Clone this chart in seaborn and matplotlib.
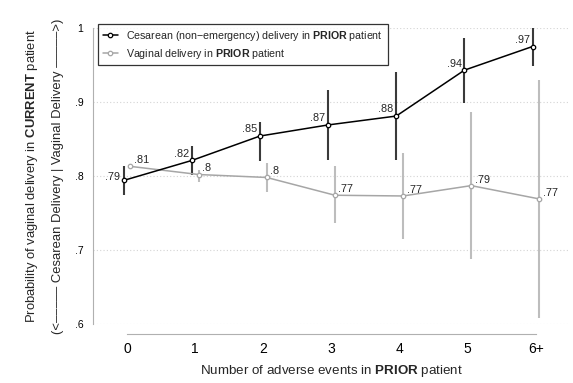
import numpy as np
import pandas as pd
import matplotlib
matplotlib.use("Agg")
import matplotlib.pyplot as plt
import seaborn as sns

sns.set_style("white")
plt.rcParams["font.family"] = ["Liberation Sans", "DejaVu Sans"]
plt.rcParams["mathtext.fontset"] = "custom"
plt.rcParams["mathtext.rm"] = "Liberation Sans"
plt.rcParams["mathtext.bf"] = "Liberation Sans:bold"

# data
categories = ["0", "1", "2", "3", "4", "5", "6+"]

cesarean_mean = [0.794, 0.821, 0.854, 0.869, 0.881, 0.943, 0.975]
cesarean_low = [0.774, 0.802, 0.820, 0.821, 0.822, 0.899, 0.949]
cesarean_high = [0.814, 0.841, 0.873, 0.916, 0.940, 0.987, 1.000]
cesarean_labels = [".79", ".82", ".85", ".87", ".88", ".94", ".97"]

vaginal_mean = [0.813, 0.802, 0.798, 0.774, 0.773, 0.787, 0.769]
vaginal_low = [0.809, 0.792, 0.778, 0.737, 0.715, 0.688, 0.608]
vaginal_high = [0.816, 0.808, 0.818, 0.813, 0.831, 0.886, 0.930]
vaginal_labels = [".81", ".8", ".8", ".77", ".77", ".79", ".77"]

ytick_vals = [0.6, 0.7, 0.8, 0.9, 1.0]
ytick_labels = [".6", ".7", ".8", ".9", "1"]

black = "#000000"
gray = "#a6a6a6"

fig = plt.figure(figsize=(5.73, 3.83), dpi=100)
ax = fig.add_axes([93 / 573, 1 - 324 / 383, 477 / 573, 296 / 383])

idx = np.arange(len(categories))
df = pd.DataFrame({
    "pos": np.concatenate([idx + 0.05, idx - 0.05]),
    "mean": vaginal_mean + cesarean_mean,
    "series": ["vag"] * len(idx) + ["ces"] * len(idx),
})

# confidence intervals
ax.vlines(idx + 0.05, vaginal_low, vaginal_high, color="#bdbdbd", lw=1.5, zorder=2)
ax.vlines(idx - 0.05, cesarean_low, cesarean_high, color="#3a3a3a", lw=1.5, zorder=3)

vag = df[df["series"] == "vag"]
ces = df[df["series"] == "ces"]
sns.lineplot(data=vag, x="pos", y="mean", color=gray, lw=1.1, marker="o",
             markersize=3.2, markerfacecolor="white", markeredgecolor=gray,
             markeredgewidth=0.9, ax=ax, zorder=4,
             label=r"Vaginal delivery in $\bf{PRIOR}$ patient")
sns.lineplot(data=ces, x="pos", y="mean", color=black, lw=1.1, marker="o",
             markersize=3.2, markerfacecolor="white", markeredgecolor=black,
             markeredgewidth=0.9, ax=ax, zorder=5,
             label=r"Cesarean (non$-$emergency) delivery in $\bf{PRIOR}$ patient")

# point labels
for i, (x, y) in enumerate(zip(ces["pos"], ces["mean"])):
    if i == 0:
        ax.annotate(cesarean_labels[i], (x, y), xytext=(-2.5, 2.5), textcoords="offset points",
                    ha="right", va="center", fontsize=7.8)
    else:
        ax.annotate(cesarean_labels[i], (x, y), xytext=(-2, 1.2), textcoords="offset points",
                    ha="right", va="bottom", fontsize=7.8)
for i, (x, y) in enumerate(zip(vag["pos"], vag["mean"])):
    ax.annotate(vaginal_labels[i], (x, y), xytext=(2.5, 0.8), textcoords="offset points",
                ha="left", va="bottom", fontsize=7.8)

ax.set_xlim(-0.5, 6.5)
ax.set_ylim(0.6, 1.0)
ax.set_xticks(idx)
ax.set_xticklabels(categories, fontsize=7.5)
ax.set_yticks(ytick_vals)
ax.set_yticklabels(ytick_labels, fontsize=7.5)
ax.grid(axis="y", linestyle=(0, (1, 2)), color="#d4d4d4", lw=0.8)
ax.grid(axis="x", visible=False)

for s in ["top", "right"]:
    ax.spines[s].set_visible(False)
ax.spines["left"].set_color("#b0b0b0")
ax.spines["bottom"].set_color("#b0b0b0")
ax.spines["bottom"].set_position(("outward", 7))
ax.spines["bottom"].set_bounds(0, 6)
ax.tick_params(axis="both", direction="out", length=4, width=0.9, color="#b0b0b0",
               pad=3, labelcolor="black")
ax.tick_params(axis="x", pad=2)

ax.set_xlabel(r"Number of adverse events in $\bf{PRIOR}$ patient", fontsize=9.6, labelpad=5)
ax.set_ylabel("")

fig.text(32 / 573, 1 - 176 / 383,
         r"Probability of vaginal delivery in $\bf{CURRENT}$ patient",
         rotation=90, ha="center", va="center", fontsize=9.4)
fig.text(58 / 573, 1 - 176 / 383,
         "(<––––– Cesarean Delivery | Vaginal Delivery –––––>)",
         rotation=90, ha="center", va="center", fontsize=9.4)

handles, labels = ax.get_legend_handles_labels()
leg = ax.legend(handles[::-1], labels[::-1], loc="upper left",
                bbox_to_anchor=(98 / 573, 1 - 24 / 383), bbox_transform=fig.transFigure,
                borderaxespad=0, fontsize=7.7, frameon=True, fancybox=False,
                edgecolor="black", handlelength=1.4, handletextpad=0.8,
                labelspacing=0.35, borderpad=0.45)
leg.get_frame().set_linewidth(0.9)

fig.savefig("out.png", dpi=100)
